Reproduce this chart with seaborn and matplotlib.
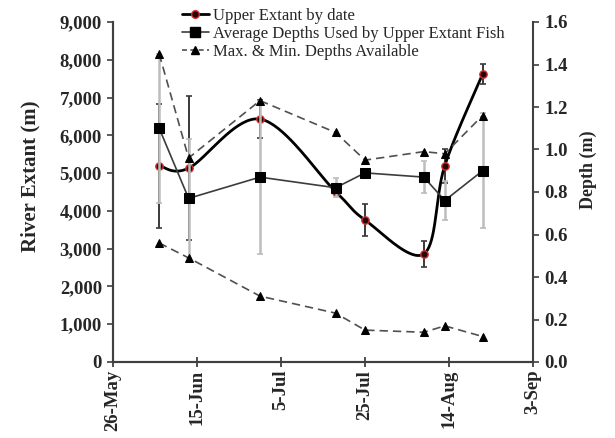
import numpy as np
import pandas as pd
import matplotlib
matplotlib.use('Agg')
import matplotlib.pyplot as plt
import seaborn as sns
import matplotlib.dates as mdates
from matplotlib.ticker import FuncFormatter, MultipleLocator
from matplotlib.lines import Line2D

# ---- data ----
dates = ['2011-06-06', '2011-06-13', '2011-06-30', '2011-07-18',
         '2011-07-25', '2011-08-08', '2011-08-13', '2011-08-22']
upper_extant = [5200, 5130, 6430, 4510, 3760, 2860, 5200, 7620]
upper_extant_err = [1640, 1900, 500, 0, 420, 350, 450, 260]
avg_depth = [1.10, 0.77, 0.87, 0.82, 0.89, 0.87, 0.76, 0.90]
avg_depth_err = [0.35, 0.28, 0.36, 0.045, 0.0, 0.075, 0.09, 0.27]
max_depth = [1.45, 0.96, 1.23, 1.08, 0.95, 0.99, 0.98, 1.16]
min_depth = [0.56, 0.49, 0.31, 0.23, 0.15, 0.14, 0.17, 0.12]
x_ticks = ['2011-05-26', '2011-06-15', '2011-07-05', '2011-07-25',
           '2011-08-14', '2011-09-03']
legend_labels = ['Upper Extant by date',
                 'Average Depths Used by Upper Extant Fish',
                 'Max. & Min. Depths Available']

sns.set_style('ticks')
plt.rcParams['font.family'] = ['Liberation Serif', 'DejaVu Serif']

df = pd.DataFrame({'date': pd.to_datetime(dates),
                   'extant': upper_extant, 'extant_err': upper_extant_err,
                   'avg': avg_depth, 'avg_err': avg_depth_err,
                   'max': max_depth, 'min': min_depth})

fig = plt.figure(figsize=(6.15, 4.38), dpi=100)
ax = fig.add_axes([113/615, 1-362/438, 420/615, 340/438])
ax2 = ax.twinx()

xmin = pd.Timestamp(x_ticks[0]); xmax = pd.Timestamp(x_ticks[-1])
ax.set_xlim(xmin, xmax)
ax.set_ylim(0, 9000)
ax2.set_ylim(0, 1.6)

# ---- smooth curve (Excel-like Catmull-Rom / Bezier) for upper extant ----
xn = mdates.date2num(df['date'])
yv = df['extant'].to_numpy(dtype=float)
x0n = mdates.date2num(xmin); x1n = mdates.date2num(xmax)
px = (xn - x0n) / (x1n - x0n) * 420.0
py = yv / 9000.0 * 340.0
P = np.column_stack([px, py])
n = len(P)
curve = []
t = np.linspace(0, 1, 40)
for i in range(n - 1):
    p0 = P[i]; p1 = P[i + 1]
    pm = P[i - 1] if i > 0 else P[i]
    pp = P[i + 2] if i + 2 < n else P[i + 1]
    c1 = p0 + (p1 - pm) / 6.0
    c2 = p1 - (pp - p0) / 6.0
    seg = ((1 - t)[:, None] ** 3 * p0 + 3 * ((1 - t) ** 2 * t)[:, None] * c1
           + 3 * ((1 - t) * t ** 2)[:, None] * c2 + (t ** 3)[:, None] * p1)
    curve.append(seg if i == 0 else seg[1:])
curve = np.vstack(curve)
cx = x0n + curve[:, 0] / 420.0 * (x1n - x0n)
cy = curve[:, 1] / 340.0 * 9000.0

# error bars for upper extant (dark)
m = df['extant_err'] > 0
ax.errorbar(df.loc[m, 'date'], df.loc[m, 'extant'], yerr=df.loc[m, 'extant_err'],
            fmt='none', ecolor='#3a3a3a', elinewidth=1.4, capsize=2.5,
            capthick=1.2, zorder=1)
ax.plot(cx, cy, color='black', lw=2.0, zorder=2)
sns.scatterplot(data=df, x='date', y='extant', ax=ax, marker='o', s=28,
                color='#2a0505', edgecolor='#d03030', linewidth=1.0, zorder=3,
                legend=False)

# depth series on the right axis
m2 = df['avg_err'] > 0
ax2.errorbar(df.loc[m2, 'date'], df.loc[m2, 'avg'], yerr=df.loc[m2, 'avg_err'],
             fmt='none', ecolor='#bdbdbd', elinewidth=1.8, capsize=2.5,
             capthick=1.2, zorder=1)
sns.lineplot(data=df, x='date', y='avg', ax=ax2, color='#3c3c3c', lw=1.2,
             marker='s', markersize=6.8, markerfacecolor='black',
             markeredgecolor='black', zorder=3, legend=False)
sns.lineplot(data=df, x='date', y='max', ax=ax2, color='#505050', lw=1.2,
             linestyle=(0, (5, 3)), marker='^', markersize=5.8,
             markerfacecolor='black', markeredgecolor='black', zorder=2,
             legend=False)
sns.lineplot(data=df, x='date', y='min', ax=ax2, color='#505050', lw=1.2,
             linestyle=(0, (5, 3)), marker='^', markersize=5.8,
             markerfacecolor='black', markeredgecolor='black', zorder=2,
             legend=False)

# ---- axes styling ----
spine_c = '#404040'
for a in (ax, ax2):
    for s in a.spines.values():
        s.set_color(spine_c); s.set_linewidth(1.5)
    a.spines['top'].set_visible(False)
ax.spines['right'].set_visible(False)

ax.set_xticks(pd.to_datetime(x_ticks))
ax.xaxis.set_major_formatter(mdates.DateFormatter('%-d-%b'))
ax.yaxis.set_major_locator(MultipleLocator(1000))
ax.yaxis.set_major_formatter(FuncFormatter(lambda v, p: f'{int(v):,}'))
ax2.yaxis.set_major_locator(MultipleLocator(0.2))
ax2.yaxis.set_major_formatter(FuncFormatter(lambda v, p: f'{v:.1f}'))

ax.tick_params(axis='x', direction='inout', length=7, width=1.3,
               color=spine_c, labelsize=13.5, rotation=90, pad=2)
ax.tick_params(axis='y', direction='out', length=4, width=1.2,
               color=spine_c, labelsize=13.5, pad=4)
ax2.tick_params(axis='y', direction='out', length=4, width=1.2,
                color=spine_c, labelsize=13.5, pad=4)
for lab in ax.get_xticklabels() + ax.get_yticklabels() + ax2.get_yticklabels():
    lab.set_fontweight('bold')

ax.set_xlabel('')
ax.set_ylabel('River Extant (m)', fontsize=15, fontweight='bold', labelpad=14)
ax2.set_ylabel('Depth (m)', fontsize=13, fontweight='bold', labelpad=9)
ax.yaxis.label.set_y(0.545)
ax2.yaxis.label.set_y(0.565)

handles = [
    Line2D([], [], color='black', lw=2.0, marker='o', markersize=5.5,
           markerfacecolor='#2a0505', markeredgecolor='#d03030'),
    Line2D([], [], color='#3c3c3c', lw=1.2, marker='s', markersize=6.5,
           markerfacecolor='black', markeredgecolor='black'),
    Line2D([], [], color='#505050', lw=1.2, linestyle=(0, (3, 2)), marker='^',
           markersize=5.5, markerfacecolor='black', markeredgecolor='black'),
]
fig.legend(handles, legend_labels, loc='upper left',
           bbox_to_anchor=(182/615, 1 - 8/438), frameon=False,
           prop={'family': 'Liberation Serif', 'size': 12},
           handlelength=1.6, handletextpad=0.25, labelspacing=0.12,
           borderaxespad=0, borderpad=0)

fig.savefig('out.png', dpi=100)
